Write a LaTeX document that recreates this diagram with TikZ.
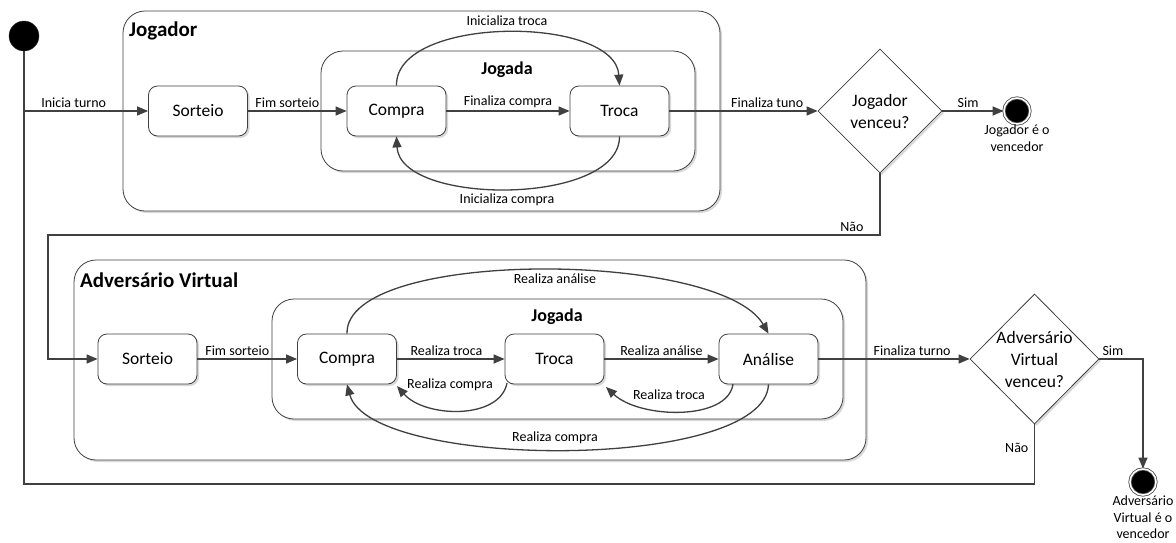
\documentclass[tikz,border=0pt]{standalone}
\usepackage{fontspec}
\setmainfont{Carlito}
\usetikzlibrary{arrows.meta}
\usetikzlibrary{shapes.geometric}
\usetikzlibrary{shadows}

\definecolor{linegray}{HTML}{404040}
\tikzset{
    softshadow/.style={drop shadow={shadow xshift=2pt, shadow yshift=-2pt, fill=black!30, opacity=0.5}},
    state/.style={draw=linegray, line width=0.8pt, rounded corners=9pt, fill=white, softshadow,
        minimum width=99pt, minimum height=50pt, font=\fontsize{17.5}{21}\selectfont},
    container/.style={draw=linegray, line width=0.8pt, rounded corners=22pt, fill=white, softshadow},
    decision/.style={diamond, aspect=1, draw=linegray, line width=0.8pt, fill=white, softshadow, inner sep=0pt},
    decisiontext/.style={align=center, font=\fontsize{17.5}{22}\selectfont},
    startstate/.style={circle, fill=black, draw=black!80, minimum size=30pt, inner sep=0pt},
    endstate/.style={circle, fill=black, draw=black!70, line width=0.8pt, double=white, double distance=1.6pt,
        minimum size=26pt, inner sep=0pt},
    trans/.style={draw=linegray, line width=1.3pt, -{Triangle[length=11pt, width=9pt]}},
    plain/.style={draw=linegray, line width=1.3pt},
    lbl/.style={font=\fontsize{14}{17}\selectfont, inner sep=2.5pt},
    endlbl/.style={font=\fontsize{14}{16.5}\selectfont, align=center, inner sep=0.5pt},
    title/.style={font=\fontsize{21}{25}\selectfont\bfseries, inner sep=1pt},
    subtitle/.style={font=\fontsize{18}{22}\selectfont\bfseries, inner sep=1pt}
}

\begin{document}
\begin{tikzpicture}[x=1pt, y=-1pt]
    \useasboundingbox (0,0) rectangle (1176,542);

    % Containers
    \draw[container] (123,11) rectangle (720,211);
    \node[title, anchor=west] (jogadortitle) at (128,31) {Jogador};
    \draw[container] (321,51) rectangle (695,171);
    \node[subtitle] (jogada1title) at (507,70) {Jogada};

    \draw[container] (74,260) rectangle (866,460);
    \node[title, anchor=west] (advtitle) at (79,280) {Adversário Virtual};
    \draw[container] (272,299) rectangle (843,419);
    \node[subtitle] (jogada2title) at (557,317) {Jogada};

    % States of the player
    \node[startstate] (start) at (24,36) {};
    \node[state] (sorteio1) at (198,111) {Sorteio};
    \node[state] (compra1) at (396.5,111) {Compra};
    \node[state] (troca1) at (619.5,111) {Troca};
    \node[decision, minimum width=124pt, minimum height=124pt] (d1) at (880,111) {};
    \node[decisiontext] (d1text) at (d1) {Jogador\\venceu?};
    \node[endstate, label={[endlbl]below:Jogador é o\\vencedor}] (end1) at (1017,111) {};

    % States of the virtual opponent
    \node[state] (sorteio2) at (147.5,359) {Sorteio};
    \node[state] (compra2) at (347,359) {Compra};
    \node[state] (troca2) at (554.5,359) {Troca};
    \node[state] (analise2) at (768.5,359) {Análise};
    \node[decision, minimum width=129pt, minimum height=130pt] (d2) at (1034.5,359) {};
    \node[decisiontext] (d2text) at (d2) {Adversário\\Virtual\\venceu?};
    \node[endstate, label={[endlbl]below:Adversário\\Virtual é o\\vencedor}] (end2) at (1143,482) {};

    % Helper points of the loops
    \coordinate (branch) at (24,111);
    \coordinate (loopcorner) at (24,484);
    \coordinate (naocorner) at (48,235);

    % Player turn
    \draw[plain] (d2.south) |- node[lbl, pos=0.2, left, xshift=-3pt] {Não} (loopcorner) -- (start);
    \draw[trans] (branch) -- node[lbl, above, pos=0.4] {Inicia turno} (sorteio1);
    \draw[trans] (sorteio1) -- node[lbl, above, pos=0.4] {Fim sorteio} (compra1);
    \draw[trans] (compra1) -- node[lbl, above] {Finaliza compra} (troca1);
    \draw[trans] (compra1.north) .. controls (395,15) and (615,15) .. (troca1.north);
    \node[lbl] (lblit) at (507,21) {Inicializa troca};
    \draw[trans] (troca1.south) .. controls (620,206) and (400,206) .. (compra1.south);
    \node[lbl] (lblic) at (507,200) {Inicializa compra};
    \draw[trans] (troca1) -- node[lbl, above, pos=0.66] {Finaliza tuno} (d1);
    \draw[trans] (d1) -- node[lbl, above, pos=0.42] {Sim} (end1);
    \draw[trans] (d1.south) |- node[lbl, pos=0.508, above left] {Não} (naocorner) |- (sorteio2);

    % Virtual opponent turn
    \draw[trans] (sorteio2) -- node[lbl, above, pos=0.4] {Fim sorteio} (compra2);
    \draw[trans] (compra2) -- node[lbl, above, pos=0.46] {Realiza troca} (troca2);
    \draw[trans] (troca2) -- node[lbl, above] {Realiza análise} (analise2);
    \draw[trans] (507,383) .. controls (500,420) and (425,418) .. (397,386);
    \node[lbl] (lblrc) at (450,385) {Realiza compra};
    \draw[trans] (733,384) .. controls (728,421) and (640,419) .. (606,387);
    \node[lbl] (lblrt) at (669,395) {Realiza troca};
    \draw[trans] (compra2.north) .. controls (345,248) and (720,250) .. (analise2.north);
    \node[lbl] (lblra) at (555,279) {Realiza análise};
    \draw[trans] (analise2.south) .. controls (765,472) and (370,470) .. (compra2.south);
    \node[lbl] (lblrc2) at (555,438) {Realiza compra};
    \draw[trans] (analise2) -- node[lbl, above, pos=0.62] {Finaliza turno} (d2);
    \draw[trans] (d2.east) -| node[lbl, pos=0, above right] {Sim} (end2);
\end{tikzpicture}
\end{document}
